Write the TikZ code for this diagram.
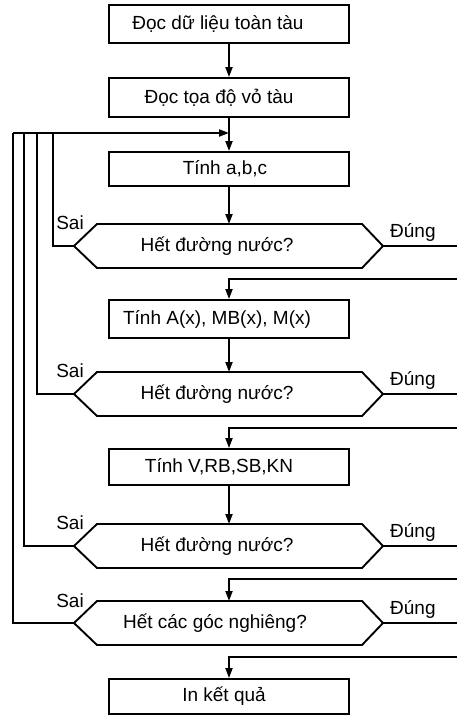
\documentclass[tikz,border=0pt]{standalone}
\usepackage{fontspec}
\setmainfont{Liberation Sans}
\usetikzlibrary{arrows.meta}
\tikzset{
  box/.style={draw, line width=1.9pt, minimum width=240pt, inner sep=0pt},
  txt/.style={font=\fontsize{19}{22}\selectfont, inner sep=0pt},
  ln/.style={line width=1.9pt},
  arr/.style={line width=1.9pt, -{Triangle[length=10pt,width=7pt]}},
  hexs/.style={draw, line width=1.9pt, line join=miter}
}
\newcommand\myhex[2]{%
  \draw[hexs] (74,#2) coordinate (#1l) -- (97,#2-22) -- (362,#2-22) -- (383,#2) coordinate (#1r)
     -- (362,#2+22) -- (97,#2+22) -- cycle;
  \coordinate (#1t) at (229,#2-22);}
\begin{document}
\begin{tikzpicture}[x=1pt,y=-1pt]
\useasboundingbox (0,0) rectangle (457,717);
% boxes
\node[box, minimum height=38pt] (b1) at (229,24) {};
\node[box, minimum height=39pt] (b2) at (229,97.5) {};
\node[box, minimum height=34pt] (b3) at (229,169) {};
\node[box, minimum height=38pt] (b4) at (229,319) {};
\node[box, minimum height=36pt] (b5) at (229,467) {};
\node[box, minimum height=35pt] (b6) at (229,696.5) {};
\node[txt] (t1) at (218,24) {Đọc dữ liệu toàn tàu};
\node[txt] (t2) at (219,97.5) {Đọc tọa độ vỏ tàu};
\node[txt] (t3) at (225,169) {Tính a,b,c};
\node[txt] (t4) at (217,319) {Tính A(x), MB(x), M(x)};
\node[txt] (t5) at (219,467) {Tính V,RB,SB,KN};
\node[txt] (t6) at (224,696.5) {In kết quả};
% hexagons
\myhex{h1}{246}
\myhex{h2}{394}
\myhex{h3}{546}
\myhex{h4}{623}
\node[txt] (q1) at (217,246) {Hết đường nước?};
\node[txt] (q2) at (217,394) {Hết đường nước?};
\node[txt] (q3) at (217,546) {Hết đường nước?};
\node[txt] (q4) at (215,623) {Hết các góc nghiêng?};
% labels
\node[txt] (s1) at (70,223) {Sai};
\node[txt] (s2) at (70,371) {Sai};
\node[txt] (s3) at (70,523) {Sai};
\node[txt] (s4) at (70,601) {Sai};
\node[txt, anchor=base west] (d1) at (390,237) {Đúng};
\node[txt, anchor=base west] (d2) at (390,385) {Đúng};
\node[txt, anchor=base west] (d3) at (390,537) {Đúng};
\node[txt, anchor=base west] (d4) at (390,614) {Đúng};
% coordinates
\coordinate (j0) at (229,133);
\coordinate (c1) at (53,133);
\coordinate (c2) at (37,133);
\coordinate (c3) at (24,133);
\coordinate (c4) at (13,133);
\coordinate (e1) at (457,246);
\coordinate (e2) at (457,394);
\coordinate (e3) at (457,546);
\coordinate (e4) at (457,623);
\coordinate (r1) at (457,279);
\coordinate (r2) at (457,428);
\coordinate (r3) at (457,579);
\coordinate (r4) at (457,657);
% main flow
\draw[arr] (b1) -- (b2);
\draw[arr] (b2) -- (b3);
\draw[arr] (b3) -- (h1t);
\draw[arr] (b4) -- (h2t);
\draw[arr] (b5) -- (h3t);
% loops back
\draw[ln] (h1l) -| (c1);
\draw[ln] (h2l) -| (c2);
\draw[ln] (h3l) -| (c3);
\draw[ln] (h4l) -| (c4);
\draw[arr] (c4) -- (j0);
% yes branches
\draw[ln] (h1r) -- (e1);
\draw[ln] (h2r) -- (e2);
\draw[ln] (h3r) -- (e3);
\draw[ln] (h4r) -- (e4);
\draw[arr] (r1) -| (b4.north);
\draw[arr] (r2) -| (b5.north);
\draw[arr] (r3) -| (h4t);
\draw[arr] (r4) -| (b6.north);
\end{tikzpicture}
\end{document}
